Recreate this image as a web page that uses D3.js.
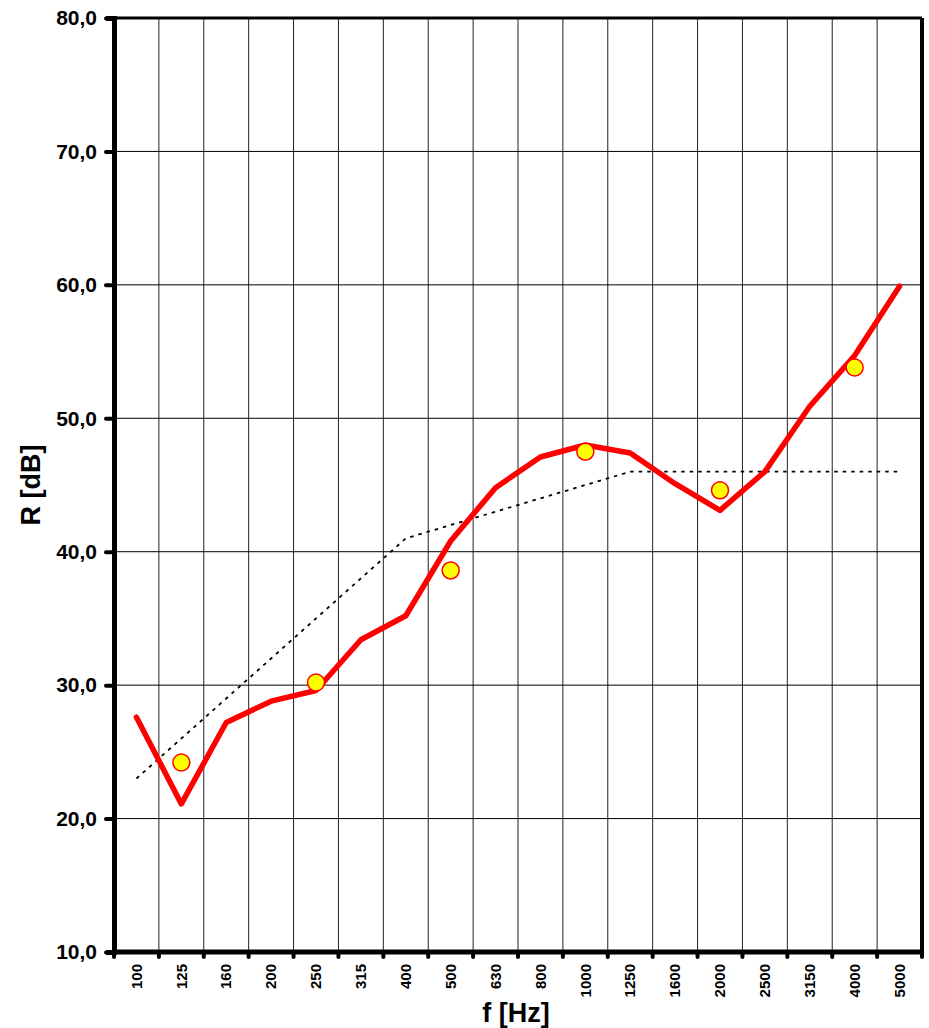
<!DOCTYPE html>
<html>
<head>
<meta charset="utf-8">
<script src="https://cdn.jsdelivr.net/npm/d3@7"></script>
<style>
  body { margin: 0; background: #fff; }
  text { font-family: "Liberation Sans", Arial, sans-serif; font-weight: bold; }
</style>
</head>
<body>
<div id="chart"></div>
<script>
const freqs = ["100", "125", "160", "200", "250", "315", "400", "500", "630",
  "800", "1000", "1250", "1600", "2000", "2500", "3150", "4000", "5000"];
const measured = [27.6, 21.1, 27.2, 28.8, 29.6, 33.4, 35.2, 40.8, 44.8,
  47.1, 48.0, 47.4, 45.1, 43.1, 46.0, 50.9, 54.7, 59.9];
const reference = [23, 26, 29, 32, 35, 38, 41, 42, 43, 44, 45, 46, 46, 46, 46, 46, 46, 46];
const octaveFreqs = ["125", "250", "500", "1000", "2000", "4000"];
const octaveValues = [24.2, 30.2, 38.6, 47.5, 44.6, 53.8];
const yTicks = [10, 20, 30, 40, 50, 60, 70, 80];

const width = 929, height = 1028;
const margin = { top: 18, right: 7, bottom: 76, left: 114 };

const svg = d3.select("#chart").append("svg")
  .attr("width", width)
  .attr("height", height);

const x = d3.scaleBand()
  .domain(freqs)
  .range([margin.left, width - margin.right]);

const y = d3.scaleLinear()
  .domain([10, 80])
  .range([height - margin.bottom, margin.top]);

// grid
svg.append("g")
  .selectAll("line")
  .data(freqs.slice(1))
  .join("line")
  .attr("x1", d => x(d))
  .attr("x2", d => x(d))
  .attr("y1", y(80))
  .attr("y2", y(10))
  .attr("stroke", "#222")
  .attr("stroke-width", 1);

svg.append("g")
  .selectAll("line")
  .data(yTicks.slice(1, -1))
  .join("line")
  .attr("x1", x.range()[0])
  .attr("x2", x.range()[1])
  .attr("y1", d => y(d))
  .attr("y2", d => y(d))
  .attr("stroke", "#000")
  .attr("stroke-width", 1);

// frame
svg.append("line")
  .attr("x1", x.range()[0]).attr("x2", x.range()[1])
  .attr("y1", y(80)).attr("y2", y(80))
  .attr("stroke", "#000").attr("stroke-width", 3);
svg.append("line")
  .attr("x1", x.range()[1]).attr("x2", x.range()[1])
  .attr("y1", y(80)).attr("y2", y(10))
  .attr("stroke", "#000").attr("stroke-width", 4);

// y axis
const yAxis = svg.append("g")
  .attr("transform", `translate(${margin.left},0)`)
  .call(d3.axisLeft(y).tickValues(yTicks).tickSize(8).tickPadding(9)
    .tickFormat(d => d3.format(".1f")(d).replace(".", ",")));
yAxis.select(".domain").attr("stroke-width", 5).attr("stroke", "#000");
yAxis.selectAll(".tick line").attr("stroke-width", 4).attr("stroke-linecap", "round");
yAxis.selectAll(".tick text").attr("font-size", 21).attr("fill", "#000");

// x axis
const xAxis = svg.append("g")
  .attr("transform", `translate(0,${y(10)})`)
  .call(d3.axisBottom(x).tickSize(0).tickPadding(0));
xAxis.select(".domain").attr("stroke-width", 5).attr("stroke", "#000").attr("d",
  `M${x.range()[0]},0H${x.range()[1]}`);
xAxis.selectAll(".tick text")
  .attr("font-size", 15)
  .attr("fill", "#000")
  .attr("transform", "rotate(-90)")
  .attr("text-anchor", "end")
  .attr("x", -12)
  .attr("y", 0)
  .attr("dy", "0.35em");

svg.append("g")
  .selectAll("line")
  .data(freqs.concat(["end"]))
  .join("line")
  .attr("x1", (d, i) => i < freqs.length ? x(d) : x.range()[1])
  .attr("x2", (d, i) => i < freqs.length ? x(d) : x.range()[1])
  .attr("y1", y(10))
  .attr("y2", y(10) + 5)
  .attr("stroke", "#000")
  .attr("stroke-width", 4)
  .attr("stroke-linecap", "round");

// reference curve
const line = d3.line()
  .x((d, i) => x(freqs[i]) + x.bandwidth() / 2)
  .y(d => y(d));

svg.append("path")
  .datum(reference)
  .attr("d", line)
  .attr("fill", "none")
  .attr("stroke", "#000")
  .attr("stroke-width", 1.8)
  .attr("stroke-dasharray", "3.5,5");

// measured curve
svg.append("path")
  .datum(measured)
  .attr("d", line)
  .attr("fill", "none")
  .attr("stroke", "#ff0000")
  .attr("stroke-width", 5.5)
  .attr("stroke-linejoin", "round")
  .attr("stroke-linecap", "round");

// octave points
svg.append("g")
  .selectAll("circle")
  .data(octaveValues)
  .join("circle")
  .attr("cx", (d, i) => x(octaveFreqs[i]) + x.bandwidth() / 2)
  .attr("cy", d => y(d))
  .attr("r", 8.5)
  .attr("fill", "#ffff00")
  .attr("stroke", "#ff0000")
  .attr("stroke-width", 1.5);

// axis titles
svg.append("text")
  .attr("x", 516)
  .attr("y", 1022)
  .attr("text-anchor", "middle")
  .attr("font-size", 27)
  .text("f [Hz]");

svg.append("text")
  .attr("transform", "translate(40,485) rotate(-90)")
  .attr("text-anchor", "middle")
  .attr("font-size", 27)
  .text("R [dB]");
</script>
</body>
</html>
